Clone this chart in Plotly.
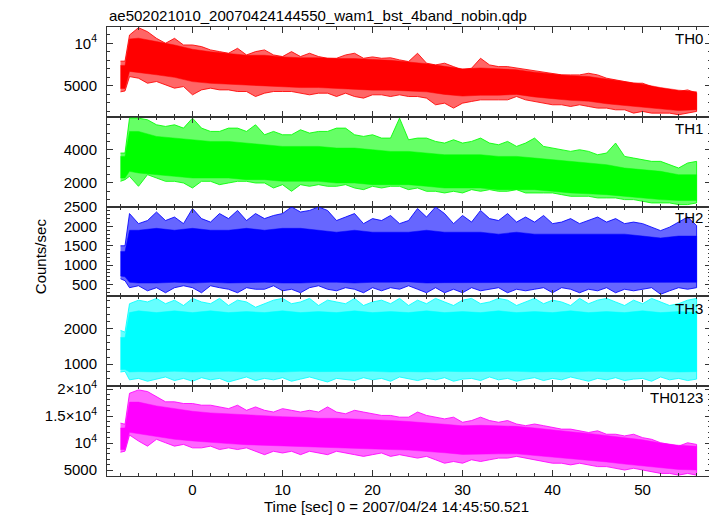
import plotly.graph_objects as go
from plotly.subplots import make_subplots

# ---------------- data ----------------
# sample times [s] for the spike envelopes
T = [-8, -7.5, -7, -6, -5, -4, -3, -2, -1, 0, 1, 2, 3, 4, 5, 6, 7, 8, 9, 10,
     11, 12, 13, 14, 15, 16, 17, 18, 19, 20, 21, 22, 23, 24, 25, 26, 27, 28,
     29, 30, 31, 32, 33, 34, 35, 36, 37, 38, 39, 40, 41, 42, 43, 44, 45, 46,
     47, 48, 49, 50, 51, 52, 53, 54, 55, 56]
# sample times [s] for the dense core of each band
TC = [-8, -7.5, -7, -6, -4, -2, 0, 2, 4, 6, 8, 10, 12, 14, 16, 18, 20, 22, 24,
      26, 28, 30, 32, 34, 36, 38, 40, 42, 44, 46, 48, 50, 52, 54, 56]

# TH0 (counts/sec)
th0_hi = [7900, 7900, 10970, 11830, 11360, 10580, 10000, 10580, 9800, 9800,
          9610, 9220, 9020, 8830, 9410, 8630, 9020, 9220, 8630, 8440, 9020,
          8440, 8830, 8440, 8240, 8240, 8630, 8830, 8240, 8400, 8240, 8300,
          8050, 7850, 8830, 7660, 7460, 7660, 7260, 6870, 7070, 8240, 7460,
          7260, 7260, 7100, 6900, 6800, 6600, 6480, 6290, 6290, 6290, 6480,
          6290, 5900, 5700, 5510, 5310, 5310, 4920, 4530, 4340, 4340, 4530,
          4140]
th0_lo = [4300, 4400, 6090, 5900, 5310, 5510, 5120, 4730, 4920, 3950, 4530,
          4730, 4530, 4530, 4340, 4340, 3750, 4140, 4340, 4340, 4340, 4140,
          3950, 4140, 4140, 3750, 4140, 3750, 3560, 3950, 3950, 3750, 3950,
          3750, 3750, 3560, 2780, 2970, 2390, 2970, 3170, 3360, 3360, 3360,
          3360, 3750, 3360, 3170, 2970, 2780, 2780, 2580, 2780, 2580, 2390,
          2390, 2190, 2190, 1800, 2000, 1800, 1800, 1800, 1610, 1800, 2000]
th0_core_hi = [7400, 7400, 10500, 10600, 10200, 9800, 9300, 9000, 8800, 8600,
               8600, 8400, 8300, 8300, 8200, 8200, 8100, 8000, 7800, 7600,
               7300, 7000, 7100, 7000, 6900, 6600, 6400, 6200, 6100, 5800,
               5500, 5200, 4800, 4500, 4300]
th0_core_lo = [4700, 4700, 6700, 6600, 6300, 6000, 5500, 5300, 5200, 5100,
               5000, 4900, 4800, 4800, 4700, 4600, 4500, 4500, 4400, 4300,
               4000, 3800, 3900, 3900, 4000, 3700, 3500, 3300, 3200, 2900,
               2700, 2500, 2300, 2100, 2200]

# TH1
th1_hi = [3800, 3800, 5900, 5900, 5800, 5500, 5400, 5500, 5300, 5900, 5300,
          5100, 5100, 5300, 5300, 5100, 5500, 4900, 5100, 4900, 4900, 5200,
          5000, 5100, 5100, 5300, 5300, 4900, 4800, 4900, 4700, 4700, 5900,
          4600, 4700, 4700, 4500, 4400, 4600, 4400, 4500, 4700, 4400, 4300,
          4500, 4200, 4400, 4700, 4200, 4100, 4000, 3900, 4000, 3900, 3700,
          3800, 4400, 3600, 3500, 3400, 3300, 3300, 3100, 2900, 3200, 3300]
th1_lo = [2100, 2200, 2400, 1800, 2500, 2300, 2100, 2100, 2000, 1700, 2100,
          2100, 1900, 2000, 2100, 2100, 2000, 2000, 1700, 1900, 1500, 1900,
          1800, 1900, 1800, 1800, 1900, 1700, 1600, 1800, 1700, 1800, 1800,
          1600, 1700, 1500, 1500, 1400, 1500, 1400, 1600, 1500, 1600, 1500,
          1500, 1600, 1400, 1400, 1400, 1400, 1300, 1200, 1200, 1200, 1100,
          1100, 1100, 1000, 1000, 900, 800, 800, 800, 700, 700, 800]
th1_core_hi = [3600, 3600, 5100, 5100, 4800, 4700, 4600, 4500, 4500, 4400,
               4300, 4200, 4200, 4200, 4100, 4100, 4000, 3900, 3900, 3800,
               3700, 3700, 3700, 3600, 3600, 3500, 3400, 3300, 3200, 3100,
               2900, 2800, 2700, 2500, 2500]
th1_core_lo = [2300, 2300, 2700, 2600, 2500, 2400, 2300, 2300, 2300, 2200,
               2200, 2100, 2100, 2100, 2000, 2000, 1900, 1900, 1900, 1800,
               1700, 1700, 1700, 1600, 1600, 1600, 1500, 1400, 1350, 1300,
               1200, 1100, 1000, 950, 950]

# TH2
th2_hi = [1500, 1500, 2330, 2070, 2150, 2370, 2150, 2240, 2070, 2460, 2200,
          2110, 2330, 2200, 2410, 2150, 2330, 2200, 2280, 2330, 2500, 2370,
          2410, 2500, 2410, 2150, 2240, 2330, 2070, 2200, 2150, 2280, 2070,
          2150, 2460, 2240, 2500, 2330, 2070, 2280, 2110, 2410, 2200, 2150,
          2330, 2110, 2240, 2110, 2280, 2070, 2110, 2200, 2070, 2150, 2240,
          2110, 2200, 2070, 2110, 2070, 1980, 1890, 1980, 2110, 2240, 2020]
th2_lo = [650, 600, 420, 470, 340, 420, 290, 420, 470, 420, 290, 470, 420,
          380, 290, 420, 380, 380, 470, 340, 380, 290, 420, 470, 380, 340,
          420, 380, 290, 420, 340, 420, 380, 470, 380, 290, 420, 290, 380,
          290, 420, 340, 380, 420, 290, 380, 340, 380, 420, 290, 420, 380,
          290, 380, 340, 420, 290, 380, 340, 380, 420, 250, 340, 420, 380, 420]
th2_core_hi = [1350, 1350, 1900, 1900, 1950, 1900, 1950, 1900, 1900, 1950,
               1900, 1950, 1950, 1900, 1850, 1900, 1850, 1850, 1850, 1900,
               1850, 1850, 1850, 1800, 1850, 1800, 1800, 1800, 1800, 1800,
               1800, 1750, 1700, 1750, 1750]
th2_core_lo = [720, 700, 560, 540, 540, 560, 540, 560, 540, 550, 560, 540,
               540, 560, 560, 540, 560, 560, 570, 540, 550, 560, 550, 560,
               560, 560, 550, 560, 560, 560, 560, 560, 560, 560, 560]

# TH3
th3_hi = [1950, 1900, 2700, 2800, 2750, 2850, 2700, 2800, 2650, 2850, 2750,
          2700, 2850, 2650, 2800, 2750, 2600, 2700, 2800, 2850, 2700, 2750,
          2850, 2650, 2800, 2750, 2700, 2850, 2650, 2750, 2800, 2700, 2850,
          2650, 2800, 2700, 2850, 2750, 2650, 2800, 2850, 2700, 2750, 2850,
          2800, 2650, 2750, 2850, 2700, 2800, 2750, 2650, 2850, 2700, 2800,
          2850, 2750, 2650, 2800, 2700, 2850, 2750, 2650, 2700, 2800, 2850]
th3_lo = [780, 800, 560, 600, 520, 580, 640, 540, 600, 520, 620, 560, 600,
          500, 580, 640, 540, 600, 560, 620, 520, 580, 640, 560, 500, 600,
          580, 540, 620, 560, 600, 520, 640, 580, 540, 600, 560, 620, 520,
          580, 600, 540, 640, 560, 600, 520, 580, 620, 540, 600, 560, 640,
          580, 520, 600, 560, 620, 540, 580, 600, 520, 640, 560, 600, 540, 580]
th3_core_hi = [1750, 1750, 2450, 2500, 2450, 2500, 2450, 2500, 2450, 2480,
               2450, 2500, 2450, 2480, 2450, 2500, 2450, 2480, 2450, 2500,
               2450, 2480, 2450, 2500, 2450, 2480, 2450, 2500, 2450, 2480,
               2450, 2500, 2450, 2480, 2450]
th3_core_lo = [850, 850, 780, 790, 780, 800, 780, 790, 800, 780, 790, 780,
               800, 790, 780, 790, 800, 780, 790, 780, 800, 790, 780, 790,
               800, 780, 790, 780, 800, 790, 780, 790, 800, 780, 790]

# TH0123
th4_hi = [13700, 13500, 19240, 19870, 19560, 18600, 17660, 17660, 17340,
          17340, 17030, 17030, 16710, 16390, 17030, 16080, 16710, 16080,
          15760, 16390, 16080, 15760, 16080, 15760, 16710, 15760, 15440,
          16080, 15760, 15440, 15130, 15130, 14810, 14810, 15760, 15130,
          14810, 14490, 14810, 13860, 14180, 14810, 14180, 13860, 14180,
          13540, 13230, 13540, 13230, 12910, 12590, 12590, 12280, 11960,
          12280, 11640, 11640, 11330, 11640, 11010, 10700, 10060, 9750, 9430,
          10060, 9750]
th4_lo = [8300, 8500, 11500, 10380, 9430, 10700, 10060, 9430, 9750, 9110,
          9110, 9430, 8800, 9110, 8800, 9110, 8480, 7850, 8480, 8160, 8480,
          7850, 8480, 8160, 7850, 8480, 8160, 7850, 7530, 7850, 8160, 7530,
          7850, 7530, 7210, 7530, 6900, 6260, 6580, 6260, 6900, 6580, 6900,
          7210, 7210, 7530, 7210, 6900, 6580, 6260, 6260, 5950, 6260, 5950,
          5630, 5630, 5320, 5000, 5320, 5000, 4680, 4370, 4370, 4050, 4370,
          4050]
th4_core_hi = [12800, 12800, 17600, 17600, 16900, 16400, 15900, 15600, 15400,
               15200, 15000, 14900, 14800, 14600, 14600, 14500, 14300, 14200,
               14000, 13800, 13500, 13200, 13300, 13200, 13100, 12800, 12400,
               12100, 11800, 11400, 11000, 10600, 10000, 9600, 9400]
th4_core_lo = [8800, 8800, 12000, 11700, 11200, 10700, 10400, 10100, 9900,
               9700, 9500, 9400, 9300, 9200, 9100, 9000, 8900, 8800, 8700,
               8500, 8200, 7900, 7900, 8000, 8000, 7800, 7400, 7100, 6800,
               6500, 6100, 5800, 5400, 5100, 5000]

labels = ["TH0", "TH1", "TH2", "TH3", "TH0123"]
colors = [(255, 0, 0), (0, 255, 0), (0, 0, 255), (0, 255, 255), (255, 0, 255)]
spike_hi = [th0_hi, th1_hi, th2_hi, th3_hi, th4_hi]
spike_lo = [th0_lo, th1_lo, th2_lo, th3_lo, th4_lo]
core_hi = [th0_core_hi, th1_core_hi, th2_core_hi, th3_core_hi, th4_core_hi]
core_lo = [th0_core_lo, th1_core_lo, th2_core_lo, th3_core_lo, th4_core_lo]

y_ranges = [[1370, 11910], [580, 5980], [196, 2509], [381, 2906], [3890, 20555]]
y_tickvals = [[5000, 10000], [2000, 4000], [500, 1000, 1500, 2000, 2500],
              [1000, 2000], [5000, 10000, 15000, 20000]]
y_ticktext = [["5000", "10<sup>4</sup>"], ["2000", "4000"],
              ["500", "1000", "1500", "2000", "2500"], ["1000", "2000"],
              ["5000", "10<sup>4</sup>", "1.5×10<sup>4</sup>", "2×10<sup>4</sup>"]]
y_minor = [1000, 500, 100, 200, 1000]
x_range = [-9.5, 57.6]

title = "ae502021010_20070424144550_wam1_bst_4band_nobin.qdp"
x_title = "Time [sec] 0 = 2007/04/24 14:45:50.521"
y_title = "Counts/sec"

# ---------------- figure ----------------
FONT = "Liberation Sans, Arial, Helvetica, sans-serif"
AX = "#333333"
fig = make_subplots(rows=5, cols=1, shared_xaxes=True, vertical_spacing=0)

for i in range(5):
    r, g, b = colors[i]
    # outer (spiky) envelope, slightly lighter, with a jagged full-colour edge
    fig.add_trace(go.Scatter(
        x=T + T[::-1], y=spike_hi[i] + spike_lo[i][::-1],
        fill="toself", fillcolor=f"rgba({r},{g},{b},0.6)",
        line=dict(color=f"rgba({r},{g},{b},0.85)", width=1),
        mode="lines", hoverinfo="skip", showlegend=False), row=i + 1, col=1)
    # dense core
    fig.add_trace(go.Scatter(
        x=TC + TC[::-1], y=core_hi[i] + core_lo[i][::-1],
        fill="toself", fillcolor=f"rgb({r},{g},{b})",
        line=dict(color=f"rgb({r},{g},{b})", width=0.5),
        mode="lines", hoverinfo="skip", showlegend=False), row=i + 1, col=1)

    fig.update_yaxes(
        range=y_ranges[i], tickmode="array", tickvals=y_tickvals[i],
        ticktext=y_ticktext[i], ticks="inside", ticklen=6, tickwidth=1,
        tickcolor=AX, showline=True, linecolor=AX, linewidth=1,
        mirror="allticks", showgrid=False, zeroline=False,
        tickfont=dict(family=FONT, size=15, color="black"),
        ticklabelstandoff=6,
        minor=dict(dtick=y_minor[i], ticks="inside", ticklen=3,
                   tickcolor=AX, showgrid=False),
        row=i + 1, col=1)
    fig.update_xaxes(
        range=x_range, tick0=0, dtick=10, ticks="inside", ticklen=6,
        tickwidth=1, tickcolor=AX, showline=True, linecolor=AX, linewidth=1,
        mirror="allticks", showgrid=False, zeroline=False,
        showticklabels=(i == 4),
        tickfont=dict(family=FONT, size=15, color="black"),
        minor=dict(dtick=2, ticks="inside", ticklen=3, tickcolor=AX,
                   showgrid=False),
        row=i + 1, col=1)

    yc = [0.9755, 0.775, 0.5757, 0.374, 0.1748][i]
    fig.add_annotation(x=0.99, y=yc, xref="paper", yref="paper",
                       text=labels[i], showarrow=False, xanchor="right",
                       yanchor="middle",
                       font=dict(family=FONT, size=15, color="black"))

fig.add_annotation(x=0, y=1.0267, xref="paper", yref="paper", text=title,
                   showarrow=False, xanchor="left", yanchor="middle",
                   font=dict(family=FONT, size=15, color="black"))
fig.add_annotation(x=0.479, y=-0.069, xref="paper", yref="paper",
                   text=x_title, showarrow=False, xanchor="center",
                   yanchor="middle",
                   font=dict(family=FONT, size=15, color="black"))
fig.add_annotation(x=-0.109, y=0.49, xref="paper", yref="paper",
                   text=y_title, showarrow=False, textangle=-90,
                   xanchor="center", yanchor="middle",
                   font=dict(family=FONT, size=15, color="black"))

# the page body adds an 8 px margin, so the figure is 8 px smaller and
# the left/top margins are 8 px less than the reference positions
fig.update_layout(
    width=709, height=508,
    margin=dict(l=99, r=6, t=19, b=40),
    paper_bgcolor="white", plot_bgcolor="white",
    font=dict(family=FONT, size=15, color="black"),
    showlegend=False,
)

fig.write_html("out.html")
